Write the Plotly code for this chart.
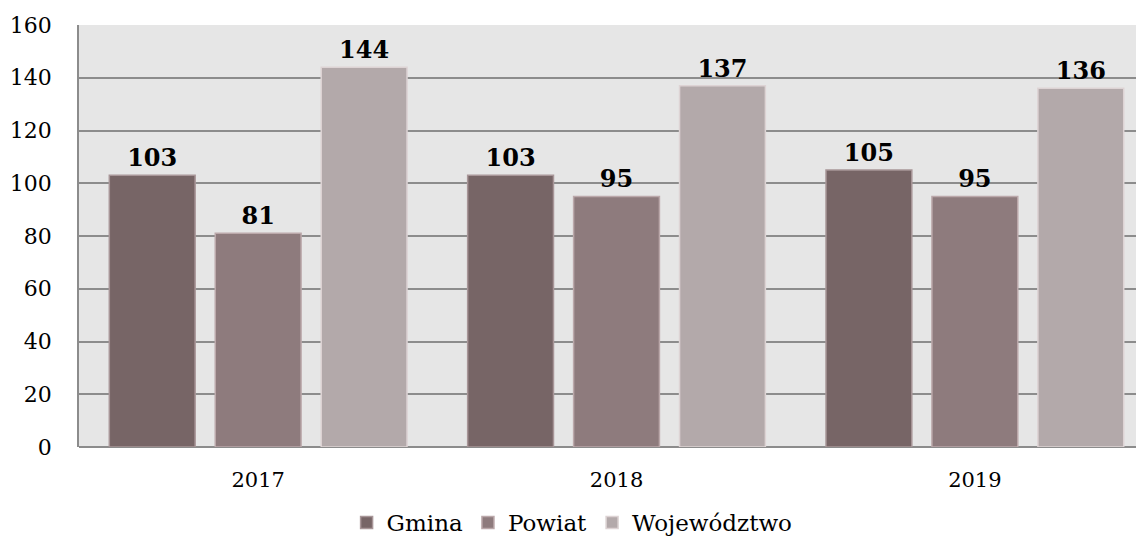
import plotly.graph_objects as go

years = ["2017", "2018", "2019"]
gmina = [103, 103, 105]
powiat = [81, 95, 95]
wojewodztwo = [144, 137, 136]
series_names = ["Gmina", "Powiat", "Województwo"]
y_ticks = [0, 20, 40, 60, 80, 100, 120, 140, 160]

colors = ["#776566", "#8e7b7d", "#b3a9aa"]
edges = ["#a89698", "#bba8aa", "#ddd3d4"]

fig = go.Figure()
for name, vals, c, e in zip(series_names, [gmina, powiat, wojewodztwo], colors, edges):
    fig.add_trace(go.Bar(
        x=years, y=vals, name=name,
        marker=dict(color=c, line=dict(color=e, width=1.5)),
        text=[str(v) for v in vals], textposition="outside",
        textfont=dict(family="DejaVu Serif", size=24, color="#000000", weight="bold"),
        cliponaxis=False,
    ))

fig.update_layout(
    width=1136, height=532,
    margin=dict(l=71, r=0, t=17, b=93, autoexpand=False),
    paper_bgcolor="#ffffff", plot_bgcolor="#e6e6e6",
    barmode="group", bargap=0.113, bargroupgap=0.19,
    font=dict(family="DejaVu Serif", size=21, color="#000000"),
    showlegend=True,
    legend=dict(orientation="h", x=0.463, xanchor="center",
                y=-0.128, yanchor="top",
                font=dict(family="DejaVu Serif", size=23), itemwidth=30,
                traceorder="normal"),
    xaxis=dict(range=[-0.5, 2.472], showgrid=False, showline=False, ticks="",
               tickfont=dict(size=21), ticklabelstandoff=18),
    yaxis=dict(range=[0, 160], tickvals=y_ticks, showgrid=True, gridcolor="#8c8c8c",
               gridwidth=1.5, zeroline=True, zerolinecolor="#8c8c8c", zerolinewidth=1.5,
               showline=True, linecolor="#8c8c8c", linewidth=1.5, ticks="",
               tickfont=dict(size=22), ticklabelstandoff=21),
)

fig.write_html("out.html")
